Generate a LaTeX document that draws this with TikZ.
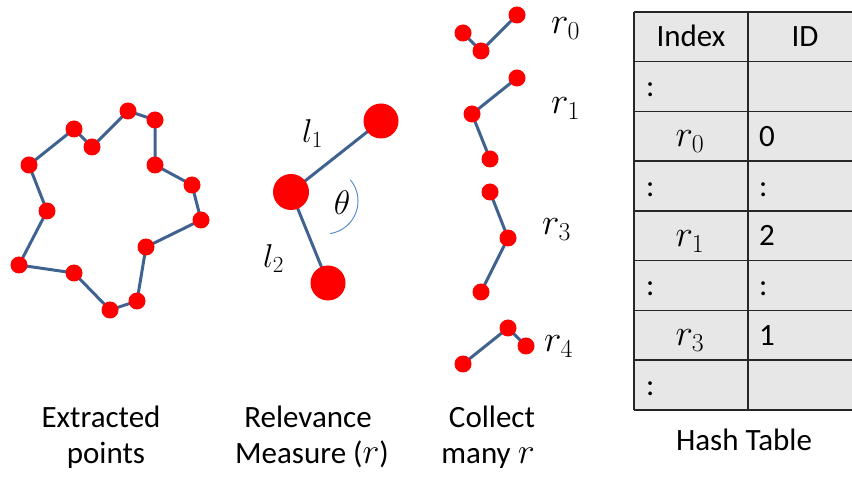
\RequirePackage{fix-cm}
\documentclass[tikz,border=0pt]{standalone}
\usepackage{fontspec}
\setmainfont{Carlito}
\usetikzlibrary{backgrounds}
\definecolor{dotred}{RGB}{255,0,0}
\definecolor{linkblue}{RGB}{64,98,143}
\definecolor{arcblue}{RGB}{91,143,208}
\definecolor{cellgray}{RGB}{231,231,231}
\definecolor{gridline}{RGB}{38,38,38}
\newcommand{\capr}{{\fontsize{36}{40}\selectfont$r$}}
\begin{document}
\begin{tikzpicture}[x=1pt,y=-1pt,
  dot/.style={circle,fill=dotred,draw=none,inner sep=0pt,minimum size=17pt},
  bigdot/.style={dot,minimum size=35pt},
  link/.style={draw=linkblue,line width=3pt},
  lbl/.style={font=\fontsize{31}{37}\selectfont,inner sep=0pt,anchor=base},
  lblw/.style={lbl,anchor=base west},
  mlbl/.style={font=\fontsize{33}{40}\selectfont,inner sep=0pt,anchor=base west},
  rlbl/.style={font=\fontsize{37}{44}\selectfont,inner sep=0pt,anchor=base west},
  grid/.style={draw=gridline,line width=1.5pt}]
\useasboundingbox (0,0) rectangle (852,478);

% ---- Extracted points
\foreach \n/\x/\y in {n/29/165, a/74/129, b/92/147, c/128/111, d/155/120,
  e/155/165, f/192/185, g/201/220, h/146/247, i/137/301, j/110/310,
  k/74/273, l/19/265, m/47/211}
  \node[dot] (p\n) at (\x,\y) {};
\begin{pgfonlayer}{background}
\draw[link,line join=round] (pn.center) -- (pa.center) -- (pb.center) -- (pc.center)
  -- (pd.center) -- (pe.center) -- (pf.center) -- (pg.center) -- (ph.center)
  -- (pi.center) -- (pj.center) -- (pk.center) -- (pl.center) -- (pm.center) -- cycle;
\end{pgfonlayer}

% ---- Relevance measure
\node[bigdot] (rt) at (381,121) {};
\node[bigdot,minimum size=36pt] (rm) at (291,192) {};
\node[bigdot] (rb) at (328,283) {};
\begin{pgfonlayer}{background}
\draw[link] (rt.center) -- (rm.center) -- (rb.center);
\end{pgfonlayer}
\coordinate (thc) at (325,201);
\draw[arcblue,line width=1pt] ([shift={(-40:33)}]thc) arc[start angle=-40,end angle=81,radius=33];
\node[mlbl] (l1) at (302,143) {$l_1$};
\node[mlbl] (l2) at (263,268) {$l_2$};
\node[font=\fontsize{34}{40}\selectfont,inner sep=0pt] (th) at (342,203) {$\theta$};

% ---- Collect many r
\node[dot] (a1) at (463,33) {};
\node[dot] (a2) at (481,51) {};
\node[dot] (a3) at (517,15) {};
\node[dot] (b1) at (517,78) {};
\node[dot] (b2) at (472,114) {};
\node[dot] (b3) at (490,159) {};
\node[dot] (c1) at (490,192) {};
\node[dot] (c2) at (508,238) {};
\node[dot] (c3) at (481,292) {};
\node[dot] (d1) at (463,364) {};
\node[dot] (d2) at (508,328) {};
\node[dot] (d3) at (526,346) {};
\begin{pgfonlayer}{background}
\draw[link] (a1.center) -- (a2.center) -- (a3.center);
\draw[link] (b1.center) -- (b2.center) -- (b3.center);
\draw[link] (c1.center) -- (c2.center) -- (c3.center);
\draw[link] (d1.center) -- (d2.center) -- (d3.center);
\end{pgfonlayer}
\node[rlbl] (r0) at (551,34) {$r_0$};
\node[rlbl] (r1) at (551,114) {$r_1$};
\node[rlbl] (r3) at (542,235) {$r_3$};
\node[rlbl] (r4) at (544,352) {$r_4$};

% ---- Hash table
\fill[cellgray] (634,12) rectangle (864,410);
\foreach \k in {0,...,8}
  \draw[grid] (634,12+49.75*\k) -- (864,12+49.75*\k);
\draw[grid] (634,12) -- (634,410);
\draw[grid] (748,12) -- (748,410);

\node[lbl] (tidx) at (691,46.9) {Index};
\node[lbl] (tid) at (805,46.9) {ID};
\node[lblw] (t1a) at (646,96.6) {:};
\node[rlbl,anchor=base] (t2a) at (690,147) {$r_0$};
\node[lblw] (t2b) at (759,146.4) {0};
\node[lblw] (t3a) at (646,196.1) {:};
\node[lblw] (t3b) at (759,196.1) {:};
\node[rlbl,anchor=base] (t4a) at (690,246.5) {$r_1$};
\node[lblw] (t4b) at (759,245.9) {2};
\node[lblw] (t5a) at (646,295.6) {:};
\node[lblw] (t5b) at (759,295.6) {:};
\node[rlbl,anchor=base] (t6a) at (690,346) {$r_3$};
\node[lblw] (t6b) at (759,345.4) {1};
\node[lblw] (t7a) at (646,395.1) {:};

% ---- captions
\node[lbl] (cap1a) at (101,428) {Extracted};
\node[lbl] (cap1b) at (106,464) {points};
\node[lbl] (cap2a) at (308,428) {Relevance};
\node[lbl] (cap2b) at (312,464) {Measure (\capr)};
\node[lbl] (cap3a) at (492,428) {Collect};
\node[lbl] (cap3b) at (488,464) {many \capr};
\node[lbl] (cap4) at (744,450) {Hash Table};
\end{tikzpicture}
\end{document}
